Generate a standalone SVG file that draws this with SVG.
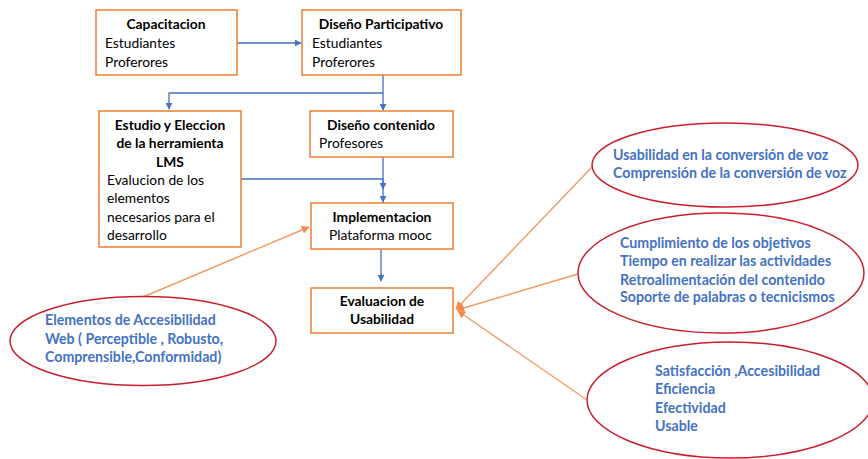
<svg xmlns="http://www.w3.org/2000/svg" width="868" height="459" viewBox="0 0 868 459">
<defs>
<style>
.box{fill:#fff;stroke:#ED7D31;stroke-width:1.5}
.ell{fill:#fff;stroke:#C8202F;stroke-width:1.5}
.t{font-family:Lato,"Open Sans",sans-serif;font-size:13.8px;fill:#000}
.b{font-weight:bold}
.et{font-family:Lato,"Open Sans",sans-serif;font-size:14.2px;font-weight:bold;fill:#4472C4}
.bl{fill:none;stroke:#4472C4;stroke-width:1.3}
.or{fill:none;stroke:#F39A60;stroke-width:1.4}
</style>
<marker id="ab" viewBox="0 0 10 10" refX="9" refY="5" markerWidth="7" markerHeight="7" markerUnits="userSpaceOnUse" orient="auto"><path d="M0,0 L10,5 L0,10 z" fill="#4472C4"/></marker>
<marker id="ao" viewBox="0 0 10 10" refX="9" refY="5" markerWidth="8" markerHeight="8" markerUnits="userSpaceOnUse" orient="auto"><path d="M0,0 L10,5 L0,10 z" fill="#F08A4B"/></marker>
</defs>
<rect width="868" height="459" fill="#fff"/>
<g id="connectors">
<path class="bl" d="M237,43 H301" marker-end="url(#ab)"/>
<path class="bl" d="M383,75 V93 H169 V109" marker-end="url(#ab)"/>
<path class="bl" d="M383,93 V110" marker-end="url(#ab)"/>
<path class="bl" d="M383,157 V189" marker-end="url(#ab)"/>
<path class="bl" d="M241,179 H383 V202" marker-end="url(#ab)"/>
<path class="bl" d="M381,249 V281" marker-end="url(#ab)"/>
<path class="or" d="M143,297 L309,227" marker-end="url(#ao)"/>
<path class="or" d="M592,167 L456,309" marker-end="url(#ao)"/>
<path class="or" d="M578,274 L457,310" marker-end="url(#ao)"/>
<path class="or" d="M587,400 L458,311" marker-end="url(#ao)"/>
</g>
<g id="capacitacion">
<rect class="box" x="96" y="10" width="141" height="65"/>
<text class="t b" x="166" y="29" text-anchor="middle">Capacitacion</text>
<text class="t" x="105" y="48">Estudiantes</text>
<text class="t" x="105" y="67">Proferores</text>
</g>
<g id="disenoParticipativo">
<rect class="box" x="302" y="10" width="159" height="65"/>
<text class="t b" x="381" y="29" text-anchor="middle">Diseño Participativo</text>
<text class="t" x="312" y="48">Estudiantes</text>
<text class="t" x="312" y="67">Proferores</text>
</g>
<g id="estudio">
<rect class="box" x="99" y="111" width="142" height="136"/>
<text class="t b" x="170" y="130" text-anchor="middle">Estudio y Eleccion</text>
<text class="t b" x="170" y="148" text-anchor="middle">de la herramienta</text>
<text class="t b" x="170" y="167" text-anchor="middle">LMS</text>
<text class="t" x="107" y="185">Evalucion de los</text>
<text class="t" x="107" y="203">elementos</text>
<text class="t" x="107" y="222">necesarios para el</text>
<text class="t" x="107" y="240">desarrollo</text>
</g>
<g id="disenoContenido">
<rect class="box" x="310" y="111" width="143" height="46"/>
<text class="t b" x="381" y="130" text-anchor="middle">Diseño contenido</text>
<text class="t" x="319" y="148">Profesores</text>
</g>
<g id="implementacion">
<rect class="box" x="311" y="203" width="142" height="46"/>
<text class="t b" x="382" y="222" text-anchor="middle">Implementacion</text>
<text class="t" x="329" y="240">Plataforma mooc</text>
</g>
<g id="evaluacion">
<rect class="box" x="311" y="288" width="142" height="45"/>
<text class="t b" x="382" y="306" text-anchor="middle">Evaluacion de</text>
<text class="t b" x="382" y="324" text-anchor="middle">Usabilidad</text>
</g>
<g id="accesibilidad">
<ellipse class="ell" cx="143" cy="341" rx="133" ry="44.5"/>
<text class="et" x="45" y="325">Elementos de Accesibilidad</text>
<text class="et" x="45" y="344">Web ( Perceptible , Robusto,</text>
<text class="et" x="45" y="362">Comprensible,Conformidad)</text>
</g>
<g id="voz">
<ellipse class="ell" cx="725" cy="165" rx="133" ry="42"/>
<text class="et" x="613" y="160">Usabilidad en la conversión de voz</text>
<text class="et" x="613" y="178">Comprensión de la conversión de voz</text>
</g>
<g id="objetivos">
<ellipse class="ell" cx="721" cy="273" rx="143" ry="60"/>
<text class="et" x="620" y="248">Cumplimiento de los objetivos</text>
<text class="et" x="620" y="266">Tiempo en realizar las actividades</text>
<text class="et" x="620" y="285">Retroalimentación del contenido</text>
<text class="et" x="620" y="302">Soporte de palabras o tecnicismos</text>
</g>
<g id="satisfaccion">
<ellipse class="ell" cx="730" cy="400" rx="143" ry="58"/>
<text class="et" x="655" y="376">Satisfacción ,Accesibilidad</text>
<text class="et" x="655" y="394">Eficiencia</text>
<text class="et" x="655" y="413">Efectividad</text>
<text class="et" x="655" y="431">Usable</text>
</g>
</svg>
